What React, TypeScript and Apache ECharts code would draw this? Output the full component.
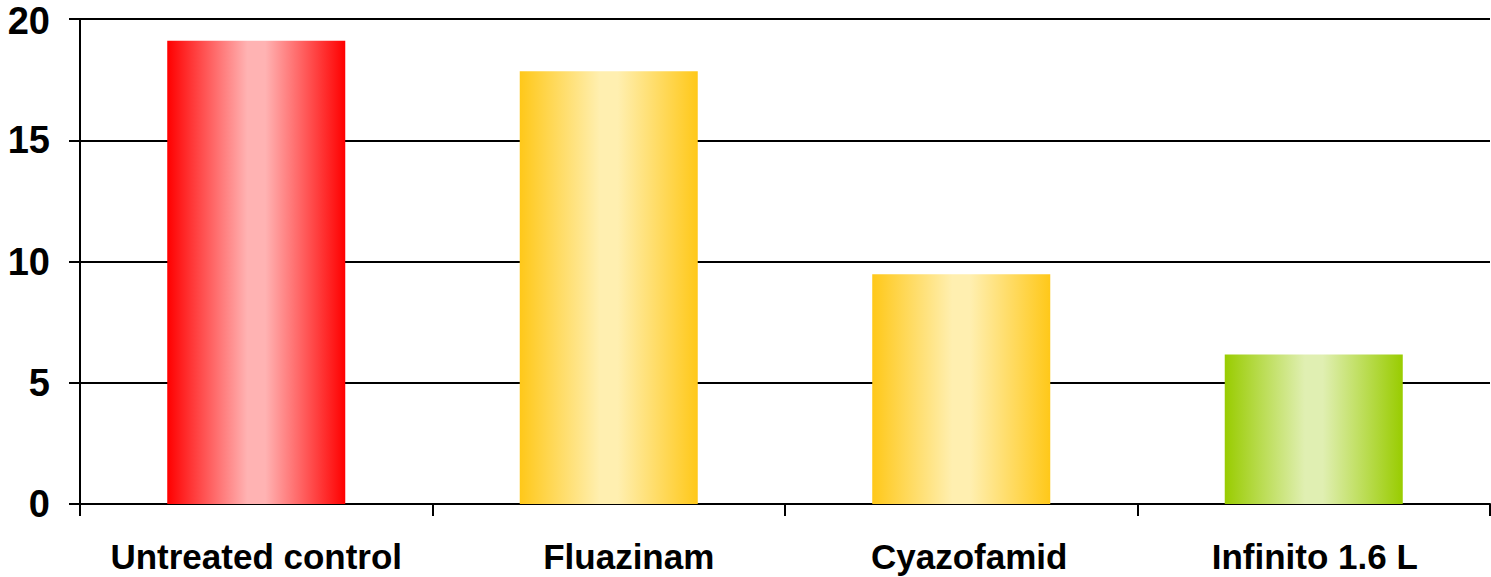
import React, { useEffect, useRef } from "react";
import * as echarts from "echarts";

const categories = ["Untreated control", "Fluazinam", "Cyazofamid", "Infinito 1.6 L"];
const values = [19.1, 17.85, 9.47, 6.17];
const edgeColors = ["#FF0000", "#FFC819", "#FFC819", "#99CC00"];
const midColors = ["#FFB3B3", "#FFEFB0", "#FFEFB0", "#E0EFB2"];
const labelShift = [0, 40, 16, 2];

export default function App() {
  const ref = useRef<HTMLDivElement>(null);
  useEffect(() => {
    if (!ref.current) return;
    const chart = echarts.init(ref.current, null, { renderer: "svg" });
    const font = "'Liberation Sans', Arial, sans-serif";
    chart.setOption({
      animation: false,
      grid: { left: 80, top: 19, right: 1, bottom: 73, containLabel: false, outerBoundsMode: "none" },
      xAxis: {
        type: "category",
        data: categories.map((c, i) => ({
          value: c,
          textStyle: { padding: [0, 0, 0, labelShift[i]] },
        })),
        boundaryGap: true,
        axisLine: { show: true, lineStyle: { color: "#000", width: 2 } },
        axisTick: { show: true, length: 12, alignWithLabel: false, lineStyle: { color: "#000", width: 2 } },
        axisLabel: {
          interval: 0,
          margin: 35,
          color: "#000",
          fontFamily: font,
          fontWeight: "bold",
          fontSize: 35,
        },
      },
      yAxis: {
        type: "value",
        min: 0,
        max: 20,
        interval: 5,
        axisLine: { show: true, lineStyle: { color: "#000", width: 2 } },
        axisTick: { show: true, length: 11, lineStyle: { color: "#000", width: 2 } },
        splitLine: { show: true, lineStyle: { color: "#000", width: 2 } },
        axisLabel: {
          margin: 30,
          color: "#000",
          fontFamily: font,
          fontWeight: "bold",
          fontSize: 38,
          formatter: (v: number) => (v === 20 ? "{top|" + v + "}" : "{n|" + v + "}"),
          rich: {
            top: {
              fontFamily: font,
              fontWeight: "bold",
              fontSize: 38,
              color: "#000",
              lineHeight: 42,
              padding: [4, 0, 0, 0],
            },
            n: {
              fontFamily: font,
              fontWeight: "bold",
              fontSize: 38,
              color: "#000",
              lineHeight: 42,
            },
          },
        },
      },
      series: [
        {
          type: "bar",
          barWidth: "50.5%",
          data: values.map((v, i) => ({
            value: v,
            itemStyle: {
              color: new echarts.graphic.LinearGradient(0, 0, 1, 0, [
                { offset: 0, color: edgeColors[i] },
                { offset: 0.45, color: midColors[i] },
                { offset: 0.55, color: midColors[i] },
                { offset: 1, color: edgeColors[i] },
              ]),
            },
          })),
        },
      ],
    });
    return () => chart.dispose();
  }, []);
  return (
    <div
      ref={ref}
      style={{ position: "fixed", left: 0, top: 0, width: 1491, height: 577, background: "#fff" }}
    />
  );
}
